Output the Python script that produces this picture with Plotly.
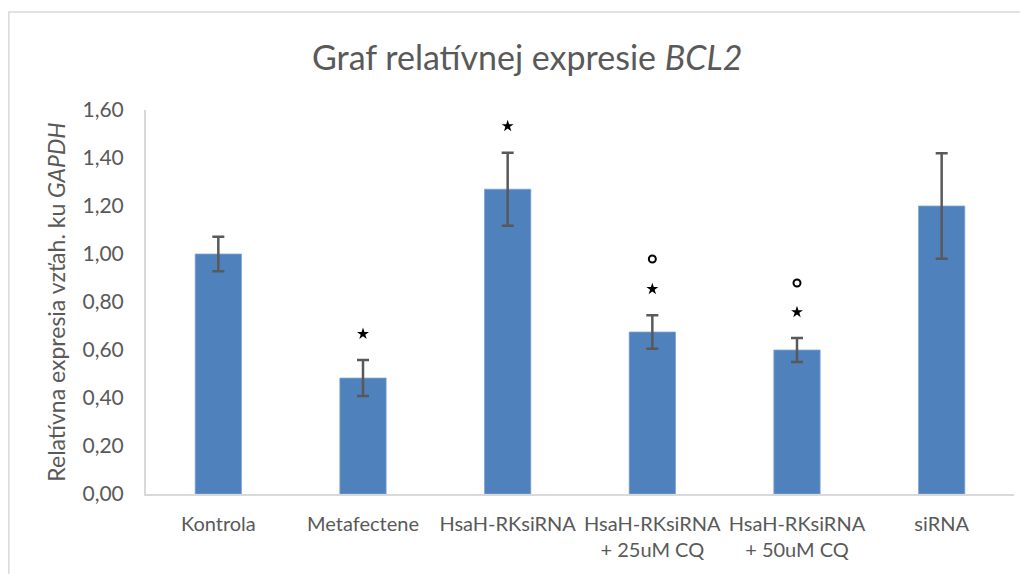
import plotly.graph_objects as go

categories = ["Kontrola", "Metafectene", "HsaH-RKsiRNA",
              "HsaH-RKsiRNA<br>+ 25uM CQ", "HsaH-RKsiRNA<br>+ 50uM CQ", "siRNA"]
values = [1.00, 0.483, 1.27, 0.675, 0.60, 1.20]
errors = [0.072, 0.075, 0.152, 0.07, 0.05, 0.22]

# significance marks (category, y position)
star_cats = ["Metafectene", "HsaH-RKsiRNA", "HsaH-RKsiRNA<br>+ 25uM CQ", "HsaH-RKsiRNA<br>+ 50uM CQ"]
star_y = [0.667, 1.533, 0.854, 0.758]
circle_cats = ["HsaH-RKsiRNA<br>+ 25uM CQ", "HsaH-RKsiRNA<br>+ 50uM CQ"]
circle_y = [0.979, 0.879]

ytick_vals = [0, 0.2, 0.4, 0.6, 0.8, 1.0, 1.2, 1.4, 1.6]
ytick_text = ["0,00", "0,20", "0,40", "0,60", "0,80", "1,00", "1,20", "1,40", "1,60"]

font = "Lato, Open Sans, sans-serif"
grey = "#595959"

fig = go.Figure()
fig.add_trace(go.Bar(
    x=categories, y=values,
    marker=dict(color="#4f81bd", line=dict(color="#7fa3d3", width=0.8)),
    error_y=dict(type="data", array=errors, color=grey, thickness=2.5, width=6),
    showlegend=False, hoverinfo="x+y",
))
fig.add_trace(go.Scatter(
    x=star_cats, y=star_y, mode="markers",
    marker=dict(symbol="star", size=9, color="black"),
    showlegend=False,
))
fig.add_trace(go.Scatter(
    x=circle_cats, y=circle_y, mode="markers",
    marker=dict(symbol="circle-open", size=7, color="black", line=dict(width=2)),
    showlegend=False,
))

fig.update_layout(
    width=1020, height=566,
    margin=dict(l=138, r=14, t=102, b=80),
    paper_bgcolor="white", plot_bgcolor="white",
    bargap=0.68,
    font=dict(family=font, color=grey),
    title=dict(text="Graf relatívnej expresie <i>BCL2</i>",
               x=0.509, xanchor="center", y=0.912, yanchor="middle",
               font=dict(size=34, color=grey, family=font)),
    shapes=[dict(type="rect", xref="paper", yref="paper",
                 x0=-0.158, x1=1.03, y0=-0.25, y1=1.255,
                 line=dict(color="#d9d9d9", width=1.5), fillcolor="rgba(0,0,0,0)",
                 layer="below")],
)
fig.update_xaxes(
    showgrid=False, showline=True, linecolor="#d9d9d9", linewidth=2,
    ticks="", tickfont=dict(size=20, color=grey, family=font),
    tickangle=0, automargin=False, ticklabelstandoff=11,
)
fig.update_yaxes(
    range=[0, 1.6], tickvals=ytick_vals, ticktext=ytick_text,
    showgrid=False, showline=True, linecolor="#d9d9d9", linewidth=2,
    ticks="", tickfont=dict(size=21, color=grey, family=font),
    ticklabelstandoff=16, zeroline=False, automargin=False,
    title=dict(text="Relatívna expresia vzťah. ku <i>GAPDH</i>",
               font=dict(size=23, color=grey, family=font), standoff=10),
)

fig.write_html("out.html")
